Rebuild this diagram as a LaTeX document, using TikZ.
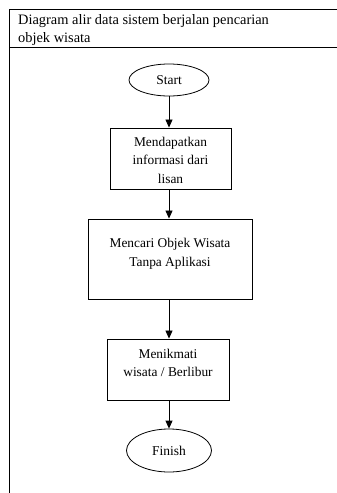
\documentclass[tikz,border=0pt]{standalone}
\usepackage{fontspec}
\setmainfont{Liberation Serif}
\usetikzlibrary{arrows.meta,shapes.geometric}
\begin{document}
\begin{tikzpicture}[x=1pt,y=-1pt,
  frame/.style={line width=0.9pt},
  procbox/.style={draw,rectangle,line width=0.9pt,inner sep=0pt},
  term/.style={draw,ellipse,line width=0.8pt,inner sep=0pt,font=\fontsize{13.5}{17}\selectfont},
  boxtext/.style={align=center,inner sep=0pt,font=\fontsize{13.4}{18.5}\selectfont},
  titletext/.style={anchor=base west,inner sep=0pt,font=\fontsize{14.4}{18}\selectfont},
  flow/.style={line width=0.8pt,-{Triangle[length=8pt,width=7pt]}}
]
\useasboundingbox (0,0) rectangle (337,493);
\draw[frame] (337,9) -- (9,9) -- (9,493);
\draw[frame] (9,47) -- (337,47);
\node[titletext] (t1) at (18,24.5) {Diagram alir data sistem berjalan pencarian};
\node[titletext] (t2) at (18,42) {objek wisata};

\node[term,minimum width=80pt,minimum height=32pt] (start) at (169,80) {Start};
\node[procbox,minimum width=121pt,minimum height=61pt] (b1) at (170.5,158.5) {};
\node[boxtext] (b1t) at (170.5,160) {Mendapatkan\\informasi dari\\lisan};
\node[procbox,minimum width=164pt,minimum height=80pt] (b2) at (170,259) {};
\node[boxtext] (b2t) at (170,254) {Mencari Objek Wisata\\Tanpa Aplikasi};
\node[procbox,minimum width=122pt,minimum height=61pt] (b3) at (168,369.5) {};
\node[boxtext] (b3t) at (168,363) {Menikmati\\wisata / Berlibur};
\node[term,minimum width=85pt,minimum height=43pt] (finish) at (169,450.5) {Finish};

\draw[flow] (start.south) -- (start.south |- b1.north);
\draw[flow] (start.south |- b1.south) -- (start.south |- b2.north);
\draw[flow] (start.south |- b2.south) -- (start.south |- b3.north);
\draw[flow] (start.south |- b3.south) -- (finish.north);
\end{tikzpicture}
\end{document}
